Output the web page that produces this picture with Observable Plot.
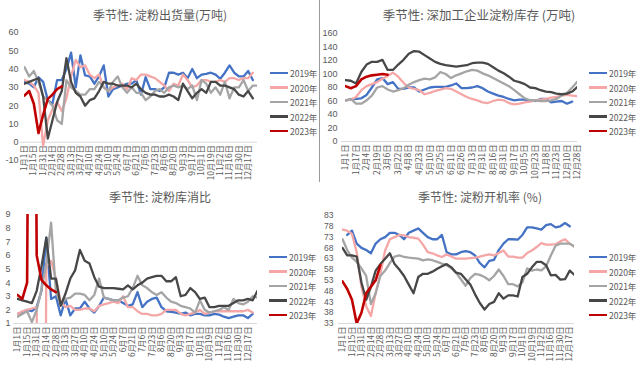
<!DOCTYPE html>
<html><head><meta charset="utf-8">
<script src="https://cdn.jsdelivr.net/npm/d3@7"></script>
<script src="https://cdn.jsdelivr.net/npm/@observablehq/plot@0.6"></script>
<style>
body{margin:0;background:#fff;font-family:"Noto Sans CJK SC","Noto Sans",sans-serif;}
#wrap{position:relative;width:640px;height:365px;overflow:hidden;background:#fff;}
.panel{position:absolute;width:320px;}
.panel svg{position:absolute;left:0;top:0;font-family:"Noto Sans CJK SC","Noto Sans",sans-serif;}
.title{position:absolute;font-size:12px;color:#595959;white-space:nowrap;transform:translate(-50%,-50%);}
.legend{position:absolute;font-size:8.5px;color:#595959;}
.legend .item{position:absolute;left:0;white-space:nowrap;display:flex;align-items:center;transform:translateY(-50%);line-height:10px;}
.legend .sw{display:inline-block;width:18px;height:2.6px;margin-right:2px;}
.divider{position:absolute;left:319px;top:0;width:1px;height:182px;background:#9a9a9a;}
</style></head>
<body><div id="wrap"><div class="divider"></div></div>
<script>
const years = ["2019年","2020年","2021年","2022年","2023年"];
const colors = ["#4472C4","#F4A7A6","#A5A5A5","#474747","#C00000"];

const labelsA = ["1月1日","1月15日","1月31日","2月14日","2月28日","3月13日","3月27日","4月10日","4月24日","5月10日","5月24日","6月7日","6月21日","7月6日","7月23日","8月6日","8月20日","9月3日","9月17日","10月1日","10月19日","11月2日","11月16日","11月30日","12月17日"];
const labelsB = ["1月1日","1月17日","2月4日","2月19日","3月6日","3月22日","4月8日","4月23日","5月10日","5月25日","6月11日","6月26日","7月13日","7月31日","8月16日","8月31日","9月17日","10月5日","10月23日","11月8日","11月23日","12月10日","12月28日"];

// Panel 1: 淀粉出货量 (万吨)
const shipTitle = "季节性: 淀粉出货量(万吨)";
const shipTicks = [-10,0,10,20,30,40,50,60];
const ship2019 = [33,32,30,35.5,33,23,21,34,34,40,49,30,47.5,36.5,36,32,36,42,25,29,30,31,32,32,34,26,35.6,29,29,28,30,38,38,37,38,35,40,35,37,37.4,38,37,34.7,38,42,38,36,36,39,34];
const ship2020 = [34,33,31,27,-2,12,18,22,17,24,36,45,41,42,37,35,37,30,28,30,31,32,29,35,34,37,37,36,35,33,31,28,32,31,37,34,30,31,34,34,33,33,34,33,35,35,34,35,35,38];
const ship2021 = [41,36,39,33,25,23,20,12,10,34,30,28,26,26,29,29,33,30,28,33,36,30,27,30,27,27,23,25,28,29,27,30,31,30,31,29,31,23,34,32,27,30,26,33,24,30,30,34,28,31,31];
const ship2022 = [32,33,34,35,25,2,12,22,28,46,33,27,25,20,23,24,28,33,32,32,31,31,31,30,32,29,27,26,26,25,25,26,25,23,32,28,24,27,29,27,33,33,31,31,30,29,26,25,28,24];
const ship2023 = [25.5,28,21,5,15,23.7,26,29,30.5];

// Panel 2: 深加工企业淀粉库存 (万吨)
const invTitle = "季节性: 深加工企业淀粉库存 (万吨)";
const invTicks = [0,20,40,60,80,100,120,140,160];
const inv2019 = [61,62,63,64,69,80,92,94,85,88,78,78,80,80,74,77,80,81,81,81,83,86,79,79,80,82,79,74,71,68,66,63,61,62,62,61,60,63,63,58,59,60,56,59];
const inv2020 = [61,62,66,76,82,85,88,93,97,102,96,87,80,78,76,70,72,75,77,79,78,74,70,66,63,61,58,57,60,62,61,57,55,56,58,59,61,62,63,65,66,68,69,68,67];
const inv2021 = [61,63,56,56,61,68,80,82,77,74,76,79,84,88,91,93,92,95,103,100,94,98,101,104,106,105,101,98,94,90,86,82,76,70,64,61,61,60,60,61,63,68,72,80,89];
const inv2022 = [91,90,86,103,114,118,118,121,106,106,114,121,130,134,133,128,123,118,115,113,112,111,112,113,116,117,117,115,110,105,101,96,90,88,85,80,79,76,74,73,71,70,71,74,81];
const inv2023 = [82,79,82,92,96,98,99,100,99];

// Panel 3: 淀粉库消比
const ratioTitle = "季节性: 淀粉库消比";
const ratioTicks = [1,2,3,4,5,6,7,8,9];
const ratio2019 = [1.7,1.8,2.0,1.9,2.2,3.4,7.3,2.8,3.0,1.6,2.8,1.6,2.1,2.1,2.6,2.1,1.8,2.3,2.9,2.8,2.7,2.7,2.5,2.3,2.4,3.3,2.2,2.6,2.8,2.9,2.2,1.9,1.85,1.8,1.7,1.8,1.6,1.7,1.7,1.6,1.6,1.7,1.65,1.5,1.4,1.5,1.6,1.6,1.4,1.7];
const ratio2020 = [1.7,1.9,2.0,2.1,2.2,-60,5.2,5.6,4.3,2.6,2.2,2.3,2.0,2.0,2.1,2.1,1.9,2.3,2.4,2.5,2.6,2.5,3.0,2.2,2.2,1.9,1.7,1.7,1.6,1.6,1.7,2.0,2.0,2.0,1.7,1.6,1.7,1.8,2.0,1.7,1.8,1.9,1.9,1.9,1.9,1.9,1.9,1.9,2.0,1.8];
const ratio2021 = [1.5,1.7,1.9,1.1,2.0,3.5,5.4,8.4,3.3,2.4,2.8,2.9,3.2,3.2,3.1,2.7,3.1,4.3,2.9,2.8,2.7,2.7,2.9,3.0,3.6,4.5,3.8,3.6,3.3,3.1,3.3,2.9,2.6,2.5,2.3,2.2,2.1,1.8,2.7,2.0,1.8,1.9,2.0,2.2,2.0,2.8,2.5,2.4,2.6,3.0,2.9];
const ratio2022 = [2.8,2.7,2.6,2.5,3.4,5.2,7.3,4.3,4.3,2.3,3.2,4.3,4.9,6.4,5.6,5.4,4.4,3.7,3.6,3.6,3.6,3.55,3.5,3.8,3.5,3.8,4.0,4.3,4.4,4.5,4.5,4.1,4.1,4.4,3.0,3.1,3.6,3.3,2.8,2.9,2.2,2.2,2.3,2.3,2.3,2.5,2.7,2.7,2.8,2.7,3.4];
const ratio2023 = [3.1,2.8,4.0,60,6.0,4.2,3.8,3.5,3.3];

// Panel 4: 淀粉开机率 (%)
const rateTitle = "季节性: 淀粉开机率 (%)";
const rateTicks = [33,38,43,48,53,58,63,68,73,78,83];
const rate2019 = [null,74,76,70,68,67,65.5,70,72,73,75,75,74,72,75,76,77,75,73,72,72,74,66,65,65,66,66.5,66,64.5,61,59,62,62.5,67,70,72,72,71.8,74,77.5,77.5,77,76.5,78.5,79,77.5,78,79.5,78];
const rate2020 = [76.5,76,74.5,66,50,41,36.5,47,56,66.8,72,73,74,73.8,73,72.7,72.3,69.5,66,65.5,64.5,63.8,65,64,63,63,63,63.3,63.5,64,64.5,65,64.5,65.6,66.8,64,64,63.5,63.5,65.6,66.8,68.4,70.2,69.5,69.5,69.7,71,72,70,68.5];
const rate2021 = [72,67,63.5,61.5,58.5,55,42,47,55,57.5,61,64,64.5,63.8,63.5,63.3,63,62.2,62.7,62.3,61.5,60.7,60,58.5,56.5,53.5,50.5,54,56,55.5,54.5,53,55,58,55,51.2,51.2,50.2,52,58.5,57.5,58,57.6,59.5,64.5,69,70,70,70,68.5];
const rate2022 = [68,64.5,64.5,64,52,44,50,57.5,60.5,63,65.5,60.5,58,55,51,47,54.5,56,56,57,58.3,59.5,60.5,59,56.5,56,53.5,51,46.5,42.5,39.5,42,43,47,44.5,46,46,45.5,54.5,56,59,61.5,61.5,60,55.3,55.5,53.3,53.5,57.5,55.5];
const rate2023 = [52.5,49,44,33,38,47,50,53,60];

const wrap = document.getElementById("wrap");

function makePanel(cfg) {
  const div = document.createElement("div");
  div.className = "panel";
  div.style.left = cfg.left + "px";
  div.style.top = cfg.top + "px";
  div.style.height = cfg.height + "px";
  wrap.appendChild(div);

  const base = cfg.yDomain[0] < 0 ? 0 : cfg.yDomain[0];
  const marks = [
    Plot.ruleY([base], {stroke: "#d9d9d9", strokeWidth: 1, insetLeft: -4}),
    Plot.text(cfg.ticks, {y: d => d, text: d => String(d), frameAnchor: "left", dx: cfg.tickDx, textAnchor: "end", fill: "#595959", fontSize: cfg.tickSize, fontFamily: "Liberation Sans, Arial, sans-serif"}),
    Plot.text(cfg.labels.map((t, k) => ({t, i: k * 2, b: base})), {x: "i", y: "b", text: "t", rotate: -90, textAnchor: "end", dy: 3, fill: "#595959", fontSize: 8.3})
  ];
  cfg.series.forEach((vals, s) => {
    const rows = vals.map((v, i) => ({i, v}));
    marks.push(Plot.line(rows, {x: "i", y: "v", stroke: colors[s], strokeWidth: s === 4 ? 2.6 : 2.3, strokeLinejoin: "round", clip: true}));
  });
  const svg = Plot.plot({
    width: 320, height: cfg.height,
    marginLeft: cfg.mL, marginRight: cfg.mR, marginTop: cfg.mT, marginBottom: cfg.mB,
    x: {type: "linear", domain: [0, cfg.xMax], axis: null},
    y: {type: "linear", domain: cfg.yDomain, axis: null},
    marks
  });
  div.appendChild(svg);

  const t = document.createElement("div");
  t.className = "title";
  t.textContent = cfg.title;
  t.style.left = cfg.titleX + "px";
  t.style.top = cfg.titleY + "px";
  t.style.fontSize = cfg.titleSize + "px";
  div.appendChild(t);

  const lg = document.createElement("div");
  lg.className = "legend";
  lg.style.left = cfg.legX + "px";
  lg.style.top = "0px";
  years.forEach((y, s) => {
    const it = document.createElement("div");
    it.className = "item";
    it.style.top = (cfg.legY0 + s * 14.5) + "px";
    const sw = document.createElement("span");
    sw.className = "sw";
    sw.style.background = colors[s];
    it.appendChild(sw);
    it.appendChild(document.createTextNode(y));
    lg.appendChild(it);
  });
  div.appendChild(lg);
}

makePanel({left: 0, top: 0, height: 182, title: shipTitle, titleX: 160, titleY: 14, titleSize: 12,
  series: [ship2019, ship2020, ship2021, ship2022, ship2023], ticks: shipTicks, yDomain: [-10, 60], xMax: 50,
  labels: labelsA, mL: 24, mR: 63, mT: 32, mB: 22, tickDx: -6, tickSize: 9, legX: 270, legY0: 73});

makePanel({left: 320, top: 0, height: 182, title: invTitle, titleX: 159, titleY: 14, titleSize: 12.5,
  series: [inv2019, inv2020, inv2021, inv2022, inv2023], ticks: invTicks, yDomain: [0, 160], xMax: 44,
  labels: labelsB, mL: 25, mR: 63, mT: 33, mB: 41, tickDx: -8, tickSize: 9, legX: 269, legY0: 73});

makePanel({left: 0, top: 180, height: 185, title: ratioTitle, titleX: 160, titleY: 16, titleSize: 12,
  series: [ratio2019, ratio2020, ratio2021, ratio2022, ratio2023], ticks: ratioTicks, yDomain: [1, 9], xMax: 50,
  labels: labelsA, mL: 17, mR: 63, mT: 34, mB: 42, tickDx: -7, tickSize: 9, legX: 269, legY0: 77});

makePanel({left: 320, top: 180, height: 185, title: rateTitle, titleX: 160, titleY: 16, titleSize: 12,
  series: [rate2019, rate2020, rate2021, rate2022, rate2023], ticks: rateTicks, yDomain: [33, 83], xMax: 49,
  labels: labelsA, mL: 22, mR: 66, mT: 35, mB: 42, tickDx: -9, tickSize: 8.5, legX: 269, legY0: 77});
</script></body></html>
